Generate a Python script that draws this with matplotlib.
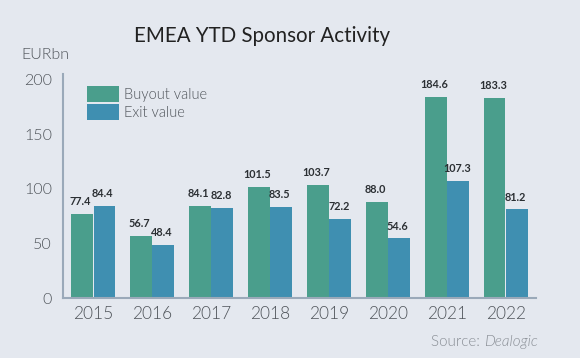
import matplotlib.pyplot as plt
import numpy as np

plt.rcParams['font.family'] = ['Lato', 'DejaVu Sans']

years = ['2015', '2016', '2017', '2018', '2019', '2020', '2021', '2022']
buyout = [77.4, 56.7, 84.1, 101.5, 103.7, 88.0, 184.6, 183.3]
exits = [84.4, 48.4, 82.8, 83.5, 72.2, 54.6, 107.3, 81.2]

bg = '#e4e8ef'
green = '#4a9e8c'
blue = '#3f8fb1'
grey = '#4f545a'
lw = 300  # Lato Light

fig = plt.figure(figsize=(5.8, 3.58), dpi=100, facecolor=bg)
ax = fig.add_axes([63 / 580, 60 / 358, (536 - 63) / 580, (298 - 74.5) / 358])
ax.set_facecolor(bg)

x = np.arange(len(years))
w = 0.365
off = 0.19
b1 = ax.bar(x - off, buyout, w, color=green, label='Buyout value')
b2 = ax.bar(x + off, exits, w, color=blue, label='Exit value')

for bars, vals in ((b1, buyout), (b2, exits)):
    for r, v in zip(bars, vals):
        ax.annotate('%.1f' % v, (r.get_x() + r.get_width() / 2, v),
                    xytext=(-1, 5), textcoords='offset points',
                    ha='center', va='bottom', fontsize=7.8,
                    fontweight='bold', color='#2b2f33')

ax.set_xlim(-0.51, 7.51)
ax.set_ylim(0, 205)
ax.set_yticks([0, 50, 100, 150, 200])
ax.set_xticks(x)
ax.set_xticklabels(years)
ax.tick_params(length=0, labelcolor=grey)
ax.tick_params(axis='y', labelsize=11.5, pad=8)
ax.tick_params(axis='x', labelsize=12.5, pad=6)
for lab in ax.get_xticklabels() + ax.get_yticklabels():
    lab.set_fontweight(lw)
for s in ('top', 'right'):
    ax.spines[s].set_visible(False)
for s in ('left', 'bottom'):
    ax.spines[s].set_color('#9aa9b9')
    ax.spines[s].set_linewidth(1.5)

leg = ax.legend(loc='upper left', bbox_to_anchor=(0.038, 0.975), frameon=False,
                fontsize=10.5, handlelength=2.2, handleheight=1.35,
                handletextpad=0.35, labelspacing=0.12, borderaxespad=0)
for t in leg.get_texts():
    t.set_color(grey)
    t.set_fontweight(lw)

fig.text(262 / 580, 1 - 36 / 358, 'EMEA YTD Sponsor Activity', ha='center',
         va='center', fontsize=14.8, color='#222222')
fig.text(21 / 580, 1 - 55 / 358, 'EURbn', ha='left', va='center',
         fontsize=11.5, color=grey, fontweight=lw)

t1 = fig.text(538 / 580, 1 - 342 / 358, 'Dealogic', ha='right', va='center',
              fontsize=11, color='#8a8f96', style='italic', fontweight=lw)
fig.canvas.draw()
bb = t1.get_window_extent()
fig.text(bb.x0 / 580, 1 - 342 / 358, 'Source: ', ha='right', va='center',
         fontsize=11, color='#8a8f96', fontweight=lw)

fig.savefig('out.png', dpi=100, facecolor=bg)
